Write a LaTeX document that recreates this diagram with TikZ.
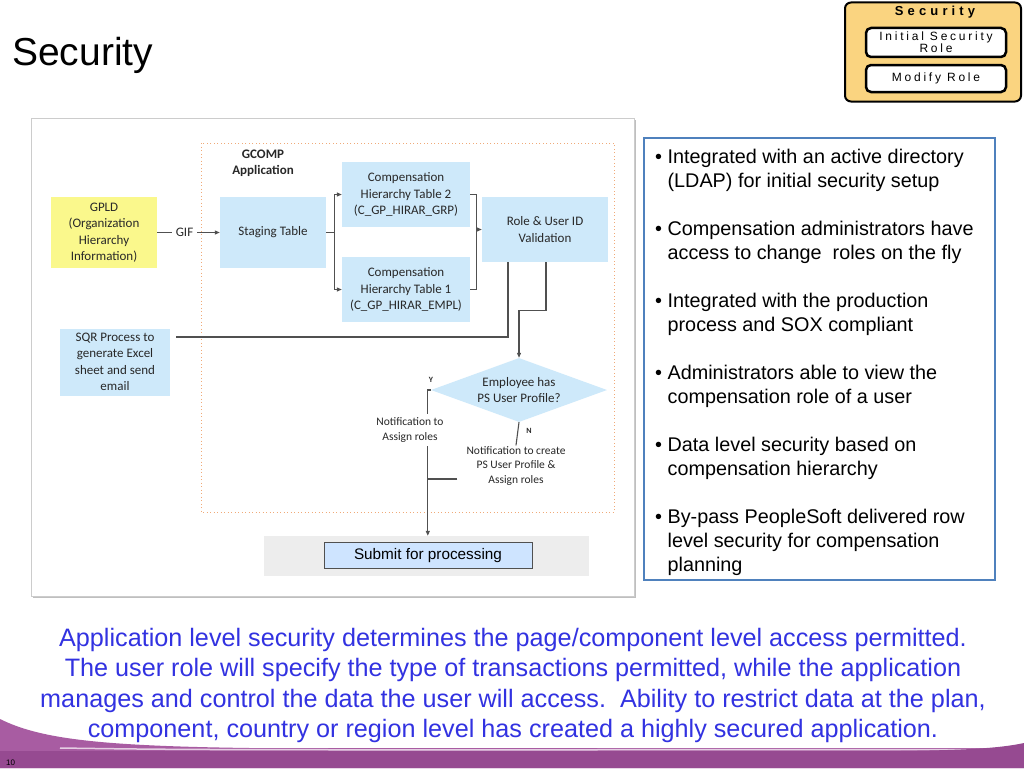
\documentclass[tikz,border=0pt]{standalone}
\usepackage{fontspec}
\setmainfont{Liberation Sans}
\newfontfamily\diag{Carlito}
\newfontfamily\wide[LetterSpace=23]{Liberation Sans}
\newfontfamily\widet[LetterSpace=32]{Liberation Sans}
\usetikzlibrary{shapes.geometric,arrows.meta,calc}
\definecolor{lblue}{RGB}{206,233,250}
\definecolor{gyel}{RGB}{250,248,140}
\definecolor{secy}{RGB}{250,212,128}
\definecolor{lineg}{RGB}{80,80,80}
\definecolor{txtg}{RGB}{40,40,40}
\definecolor{dotor}{RGB}{240,170,120}
\definecolor{bbord}{RGB}{79,129,189}
\definecolor{tblue}{RGB}{50,50,225}
\definecolor{purpA}{RGB}{168,92,162}
\definecolor{purpB}{RGB}{150,74,145}
\definecolor{subbl}{RGB}{206,228,255}
\begin{document}
\begin{tikzpicture}[x=1pt,y=-1pt,
  dtext/.style={font=\diag\fontsize{13}{16.5}\selectfont, align=center, text=txtg, inner sep=0},
  bluebox/.style={dtext, fill=lblue},
  small/.style={font=\diag\fontsize{11.5}{14.5}\selectfont, align=center, text=txtg},
  yn/.style={font=\diag\bfseries\fontsize{8}{8}\selectfont, text=txtg, inner sep=0},
  conn/.style={draw=lineg, line width=1.1pt},
  arr/.style={conn, -{Triangle[length=5pt,width=4pt]}}]
\useasboundingbox (0,0) rectangle (1024,768);
\fill[white] (0,0) rectangle (1024,768);

% title
\node[anchor=base west, inner sep=0, font=\fontsize{39}{39}\selectfont] (title) at (12,66) {Security};

% top right security box
\node[draw=black, line width=2pt, rounded corners=6pt, fill=secy, minimum width=176, minimum height=99] (secbox) at (933,52) {};
\node[font=\widet\bfseries\fontsize{13}{13}\selectfont, inner sep=0] (sectitle) at (935,12) {Security};
\node[draw=black, line width=2.5pt, rounded corners=5pt, fill=white, minimum width=140, minimum height=29, align=center, inner sep=0, font=\wide\fontsize{12}{11}\selectfont] (isr) at (936,42.5) {Initial Security\\Role};
\node[draw=black, line width=2.5pt, rounded corners=5pt, fill=white, minimum width=140, minimum height=27, inner sep=0, font=\wide\fontsize{12}{11}\selectfont] (mod) at (936,78.5) {Modify Role};

% diagram frame
\fill[black!25] (33,120) rectangle (636,598);
\node[draw=black!20, fill=white, line width=1pt, minimum width=603, minimum height=478, inner sep=0] (frame) at (332.5,357) {};
\draw[dotor, line width=1pt, dash pattern=on 1pt off 2.5pt] (201,143) rectangle (614,512);

\node[dtext, font=\diag\bfseries\fontsize{13}{16.5}\selectfont] (gcomp) at (263,163.5) {GCOMP\\Application};

\node[dtext, fill=gyel, minimum width=106, minimum height=71] (gpld) at (104,232.5) {GPLD\\(Organization\\Hierarchy\\Information)};
\node[dtext, inner sep=4pt] (gif) at (184.5,232.5) {GIF};
\node[bluebox, minimum width=106, minimum height=71] (stage) at (273,232.5) {Staging Table};
\node[bluebox, minimum width=128, minimum height=65] (ct2) at (406,194.5) {Compensation\\Hierarchy Table 2\\(C\_GP\_HIRAR\_GRP)};
\node[bluebox, minimum width=128, minimum height=65] (ct1) at (406,289.5) {Compensation\\Hierarchy Table 1\\(C\_GP\_HIRAR\_EMPL)};
\node[bluebox, minimum width=126, minimum height=65] (role) at (545,229.5) {Role \& User ID\\Validation};
\node[bluebox, minimum width=110, minimum height=67] (sqr) at (115,362) {SQR Process to\\generate Excel\\sheet and send\\email};
\node[diamond, fill=lblue, minimum width=176, minimum height=64, inner sep=0] (dia) at (519,390) {};
\node[dtext] (diat) at (dia.center) {Employee has\\PS User Profile?};
\node[yn] (ylab) at (431,380) {Y};
\node[yn] (nlab) at (529,431) {N};
\node[small, inner sep=4pt] (nty) at (410,430) {Notification to\\Assign roles};
\node[small, inner sep=1pt] (ntn) at (516,466) {Notification to create\\PS User Profile \&\\Assign roles};

% submit area
\node[fill=black!7, minimum width=325, minimum height=40, inner sep=0] (subbg) at (426.5,556) {};
\node[draw=lineg, line width=0.8pt, fill=subbl, minimum width=208, minimum height=26, inner sep=0, font=\fontsize{15.3}{15}\selectfont] (submit) at (428,555.5) {Submit for processing};

% connectors
\draw[conn] (gpld.east) -- (gif.west);
\draw[arr] (gif.east) -- (stage.west);
\coordinate (sp) at ([xshift=8pt]stage.east);
\draw[conn] (stage.east) -- (sp);
\draw[arr] (sp) |- (ct2.west);
\draw[arr] (sp) |- (ct1.west);
\coordinate (jr) at ([xshift=-5pt]role.west);
\draw[conn] (ct2.east) -| (jr);
\draw[conn] (ct1.east) -| (jr);
\draw[arr] (jr) -- (role.west);
\draw[conn] ([xshift=-37pt]role.south) |- ([xshift=6pt,yshift=25pt]sqr.east);
\draw[arr] ([xshift=1pt]role.south) -- ++(0,48) -| (dia.north);
\coordinate (yc) at ([xshift=-3pt]dia.west);
\draw[conn] (dia.west) -- (yc) -- (yc |- nty.north);
\draw[arr] (yc |- nty.south) -- (yc |- subbg.north);
\draw[conn] (dia.south) -- (ntn.north);
\coordinate (nw) at ([xshift=-8pt,yshift=-13pt]ntn.west);
\draw[conn] (nw) -- (yc |- nw);

% right bullet box
\node[draw=bbord, line width=2pt, minimum width=351, minimum height=442, inner sep=0] (rbox) at (819.5,359) {};
\node[anchor=north west, inner sep=0, align=left, font=\fontsize{19.8}{24}\selectfont] (bul) at (655,148.5) {%
• Integrated with an active directory\\
\phantom{• }(LDAP) for initial security setup\\[24pt]
• Compensation administrators have\\
\phantom{• }access to change\ \ roles on the fly\\[24pt]
• Integrated with the production\\
\phantom{• }process and SOX compliant\\[24pt]
• Administrators able to view the\\
\phantom{• }compensation role of a user\\[24pt]
• Data level security based on\\
\phantom{• }compensation hierarchy\\[24pt]
• By-pass PeopleSoft delivered row\\
\phantom{• }level security for compensation\\
\phantom{• }planning};

% bottom swoosh
\fill[purpA] (0,719) .. controls (40,739) and (100,746) .. (250,748) -- (1024,748) -- (1024,768) -- (0,768) -- cycle;
\draw[white!70!purpA, line width=1.5pt] (60,748) .. controls (200,750) .. (1024,749.5);
\fill[purpB] (0,751) -- (900,751) .. controls (980,750) and (1005,747) .. (1024,743) -- (1024,768) -- (0,768) -- cycle;
\node[anchor=base west, inner sep=0, font=\fontsize{8}{8}\selectfont] (pnum) at (6,765) {10};

% bottom paragraph
\node[font=\fontsize{25.2}{30.5}\selectfont, text=tblue, align=center, inner sep=0] (para) at (513,685.5) {Application level security determines the page/component level access permitted.\\
The user role will specify the type of transactions permitted, while the application\\
manages and control the data the user will access.\ \ Ability to restrict data at the plan,\\
component, country or region level has created a highly secured application.};
\end{tikzpicture}
\end{document}
